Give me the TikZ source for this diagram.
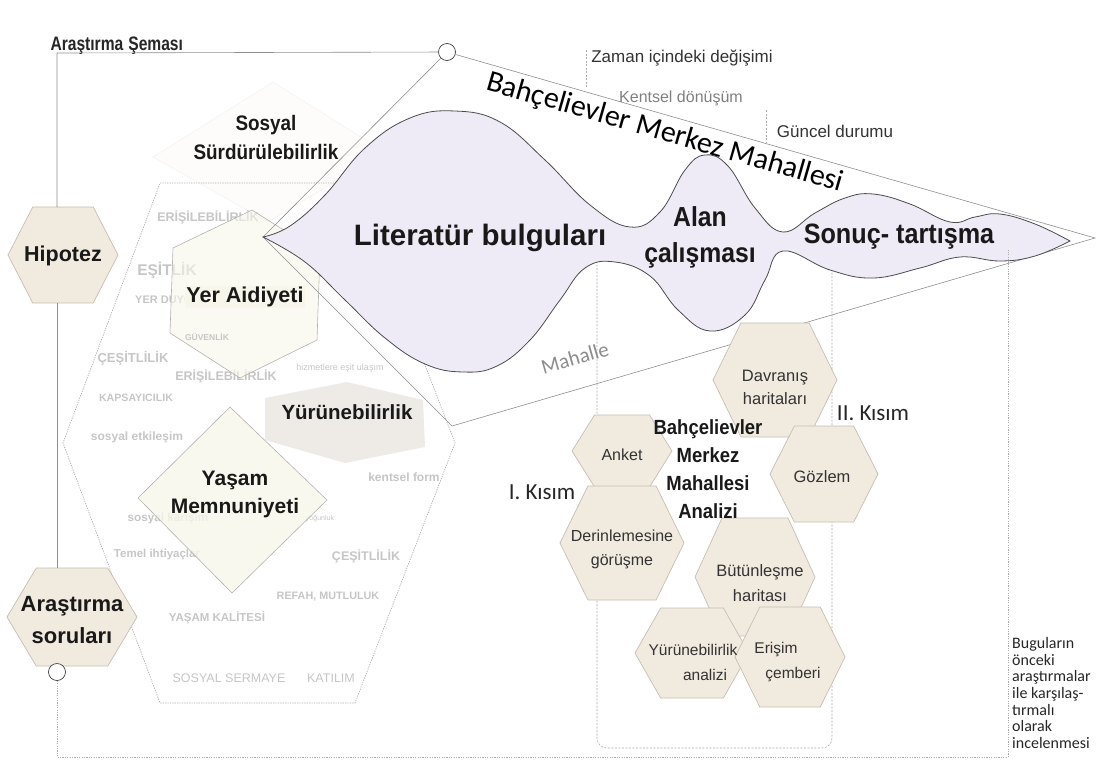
\documentclass[tikz,border=0pt]{standalone}
\usepackage{fontspec}
\setmainfont{Liberation Sans}
\newfontfamily\calibfont{Carlito}
\newfontfamily\condfont{Liberation Sans}[FakeStretch=0.9]
\newfontfamily\titlefont{Liberation Sans}[FakeStretch=0.8]
\usepackage{tikz}
\usetikzlibrary{positioning}
\usepackage{xcolor}
\definecolor{hexfill}{HTML}{F1EADF}
\definecolor{hexline}{HTML}{C6BEB2}
\definecolor{creamfill}{HTML}{F8F6EA}
\definecolor{walkfill}{HTML}{EEEBE7}
\definecolor{blobfill}{HTML}{EEEAF6}
\definecolor{ghostgray}{HTML}{C6C6C6}
\definecolor{frameline}{HTML}{8E8E8E}
\definecolor{dashline}{HTML}{ABABAB}
\definecolor{faintfill}{HTML}{FDFCFA}
\definecolor{faintline}{HTML}{F3F0EC}

\newcommand{\fsz}[2]{\fontsize{#1}{#2}\selectfont}
\newcommand{\hexshape}[6]{%
  \path[#2] ({#3-#5},#4) -- ({#3-0.55*#5},{#4-#6}) -- ({#3+0.55*#5},{#4-#6}) -- ({#3+#5},#4) -- ({#3+0.55*#5},{#4+#6}) -- ({#3-0.55*#5},{#4+#6}) -- cycle;
  \coordinate (#1-n) at (#3,{#4-#6});
  \coordinate (#1-s) at (#3,{#4+#6});
}

\begin{document}
\begin{tikzpicture}[x=1pt, y=-1pt,
  hexa/.style={fill=hexfill, draw=hexline, line width=0.7pt},
  shapeline/.style={draw=black!30, line width=0.6pt},
  ghost/.style={text=ghostgray, inner sep=0pt},
  boldtxt/.style={text=black!90, align=center, inner sep=0pt},
  regtxt/.style={text=black!80, align=center, inner sep=0pt},
  frame/.style={draw=frameline, line width=0.6pt},
  dashframe/.style={draw=dashline, line width=0.6pt, dash pattern=on 2pt off 1.5pt},
  dotframe/.style={draw=dashline, line width=0.7pt, dash pattern=on 1.2pt off 1.2pt},
  ringnode/.style={circle, draw=black!75, fill=white, line width=0.7pt, minimum size=17pt, inner sep=0pt}]
        \path[use as bounding box] (0,0) rectangle (1100,764);

        \node[anchor=west, font=\titlefont\bfseries\fsz{19.5}{22}, text=black!85] (title) at (47,46) {Araştırma\hspace{5pt}Şeması};

        \path[fill=faintfill, draw=faintline] (153,157) -- (273,82) -- (385,152) -- (268,222) -- cycle;
        \draw[dotframe] (160,183) -- (355,183) -- (455,443) -- (355,703) -- (160,703) -- (63,443) -- cycle;

        \node[ghost, font=\bfseries\fsz{12.5}{15}] (gerisim) at (208,217) {ERİŞİLEBİLİRLİK};
        \node[ghost, font=\bfseries\fsz{15.5}{18}] (gesitlik) at (167,270) {EŞİTLİK};
        \node[ghost, font=\bfseries\fsz{11}{13}, anchor=west] (gyer) at (135,300) {YER DUYGUSU};
        \node[ghost, font=\bfseries\fsz{13}{15}] (gcesit) at (133,358) {ÇEŞİTLİLİK};
        \node[ghost, font=\bfseries\fsz{12.5}{15}] (gerisim2) at (226,376) {ERİŞİLEBİLİRLİK};
        \node[ghost, font=\fsz{9}{11}] (ghizmet) at (340,368) {hizmetlere eşit ulaşım};
        \node[ghost, font=\bfseries\fsz{10.6}{13}] (gkapsa) at (136,398) {KAPSAYICILIK};
        \node[ghost, font=\bfseries\fsz{12}{14}] (getki) at (137,437) {sosyal etkileşim};
        \node[ghost, font=\bfseries\fsz{12}{14}] (gform) at (404,477) {kentsel form};
        \node[ghost, font=\bfseries\fsz{11.7}{14}] (gkarisim) at (168,518) {sosyal karışım};
        \node[ghost, font=\fsz{7}{8}] (gyogun) at (320,519) {yoğunluk};
        \node[ghost, font=\bfseries\fsz{11.5}{14}] (gtemel) at (157,555) {Temel ihtiyaçlar};
        \node[ghost, font=\bfseries\fsz{12.5}{15}] (gcesit2) at (366,556) {ÇEŞİTLİLİK};
        \node[ghost, font=\bfseries\fsz{10.8}{13}] (grefah) at (328,597) {REFAH, MUTLULUK};
        \node[ghost, font=\bfseries\fsz{11.5}{14}] (gkalite) at (217,618) {YAŞAM KALİTESİ};
        \node[ghost, font=\fsz{12.5}{15}] (gsermaye) at (229,678) {SOSYAL SERMAYE};
        \node[ghost, font=\fsz{12.5}{15}] (gkatilim) at (331,678) {KATILIM};

        \path[shapeline, fill=creamfill, fill opacity=0.6] (252,210) -- (320,253) -- (317,340) -- (240,378) -- (170,333) -- (173,248) -- cycle;
        \node[ghost, font=\bfseries\fsz{8.5}{10}] (gguven) at (207,337) {GÜVENLİK};
        \path[fill=walkfill] (265,398) -- (347,382) -- (423,400) -- (425,447) -- (345,463) -- (265,440) -- cycle;
        \path[shapeline, fill=creamfill, fill opacity=0.8] (230,407) -- (327,500) -- (232,593) -- (138,498) -- cycle;

        \draw[dashframe] (586,50) -- (586,88);
        \draw[dashframe] (766,110) -- (766,143);
        \draw[dashframe, rounded corners=10pt] (597,240) -- (597,748) -- (832,748) -- (832,240);

        \node[ringnode] (topring) at (447,52) {};
        \coordinate (lefttip) at (263,237);
        \coordinate (lowtip) at (452,426);
        \coordinate (righttip) at (1095,238);
        \draw[frame] (topring) -- (lefttip) -- (lowtip) -- (righttip) -- (topring);

        \filldraw[fill=blobfill, draw=black!70, line width=0.8pt]
          plot[smooth, tension=0.7] coordinates {(263,237) (290,226) (325,195) (365,148) (410,118) (455,111) (500,122) (545,160) (590,205) (630,227) (660,212) (685,170) (705,155) (728,166) (755,208) (783,232) (815,213) (845,198) (873,194) (910,204) (950,222) (975,217) (1000,214) (1035,224) (1070,241)}
          -- plot[smooth, tension=0.7] coordinates {(1070,241) (1035,256) (1000,261) (960,257) (920,268) (873,278) (830,270) (783,251) (765,280) (745,315) (710,331) (678,310) (650,276) (615,262) (585,268) (560,300) (530,340) (497,366) (463,372) (425,364) (385,338) (345,300) (305,262) (263,237)} -- cycle;

        \node[regtxt, font=\fsz{17}{20}] (zaman) at (682,58) {Zaman içindeki değişimi};
        \node[regtxt, font=\fsz{16}{19}, text=black!50] (kentsel) at (681,98) {Kentsel dönüşüm};
        \node[regtxt, font=\fsz{17}{20}] (guncel) at (835,131) {Güncel durumu};
        \node[font=\calibfont\fsz{30}{34}, rotate=-16, inner sep=0pt] (mahname) at (665,133) {Bahçelievler Merkez Mahallesi};
        \node[font=\calibfont\fsz{21}{24}, text=black!45, rotate=16, inner sep=0pt] (mahalle) at (575,358) {Mahalle};

        \node[boldtxt, font=\bfseries\fsz{29.5}{32}] (lit) at (480,238) {Literatür bulguları};
        \node[boldtxt, font=\condfont\bfseries\fsz{27.5}{36}] (alan) at (700,237) {Alan\\çalışması};
        \node[boldtxt, font=\condfont\bfseries\fsz{28}{30}] (sonuc) at (899,237) {Sonuç- tartışma};

        \node[boldtxt, font=\condfont\bfseries\fsz{21}{29}] (sosyal) at (266,137) {Sosyal\\Sürdürülebilirlik};
        \node[boldtxt, font=\bfseries\fsz{21.5}{25}, fill=creamfill, inner sep=1pt] (yer) at (245,297) {Yer Aidiyeti};
        \node[boldtxt, font=\bfseries\fsz{20.5}{24}] (yuru) at (347,412) {Yürünebilirlik};
        \node[boldtxt, font=\bfseries\fsz{21}{28}] (yasam) at (235,494) {Yaşam\\Memnuniyeti};

        \hexshape{hip}{hexa}{63}{255}{55}{48}
        \node[boldtxt, font=\bfseries\fsz{21.5}{25}] (hiptxt) at (63,256) {Hipotez};
        \hexshape{arq}{hexa}{72}{617}{65}{49}
        \node[boldtxt, font=\bfseries\fsz{22}{32}] (arqtxt) at (72,620) {Araştırma\\soruları};
        \node[ringnode] (botring) at (57,672) {};
        \coordinate (corner) at (57,53);
        \coordinate (bl) at (57,757);
        \coordinate (br) at (1008,757);
        \coordinate (rt) at (1008,250);
        \draw[frame] (topring) -- (corner) -- (corner |- hip-n);
        \draw[frame] (hip-s -| corner) -- (arq-n -| corner);
        \draw[dotframe] (botring) -- (bl) -- (br) -- (rt);

        \hexshape{anket}{hexa}{622}{451}{50}{36}
        \hexshape{derin}{hexa}{622}{543}{62}{57}
        \hexshape{davran}{hexa}{775}{380}{62}{57}
        \hexshape{gozlem}{hexa}{824}{474}{54}{48}
        \hexshape{butun}{hexa}{755}{577}{60}{59}
        \hexshape{yurana}{hexa}{692}{653}{57}{45}
        \hexshape{erisim}{hexa}{790}{657}{55}{50}

        \node[regtxt, font=\fsz{16}{19}] (anketxt) at (622,455) {Anket};
        \node[regtxt, font=\fsz{16}{24}] (derintxt) at (622,549) {Derinlemesine\\görüşme};
        \node[regtxt, font=\fsz{16.5}{23}] (davrantxt) at (775,387) {Davranış\\haritaları};
        \node[regtxt, font=\fsz{16.5}{19}] (gozlemtxt) at (822,477) {Gözlem};
        \node[regtxt, font=\fsz{16.5}{25}] (butuntxt) at (760,583) {Bütünleşme\\haritası};
        \node[regtxt, font=\fsz{15.5}{18}] (yuranatxt) at (693,650) {Yürünebilirlik};
        \node[regtxt, font=\fsz{15.5}{18}] (yuranatxt2) at (705,675) {analizi};
        \node[regtxt, font=\fsz{15.5}{18}] (erisimtxt) at (776,650) {Erişim};
        \node[regtxt, font=\fsz{15.5}{18}] (erisimtxt2) at (793,675) {çemberi};

        \node[boldtxt, font=\condfont\bfseries\fsz{20.5}{28}] (analiz) at (708,469) {Bahçelievler\\Merkez\\Mahallesi\\Analizi};
        \node[font=\calibfont\fsz{23}{26}, text=black!85, inner sep=0pt] (kisim1) at (542,492) {I. Kısım};
        \node[font=\calibfont\fsz{23}{26}, text=black!85, inner sep=0pt] (kisim2) at (873,413) {II. Kısım};
        \node[anchor=north west, align=left, font=\calibfont\fsz{16}{16.7}, text=black!85, inner sep=0pt] (bugu) at (1012,637) {Buguların\\önceki\\araştırmalar\\ile karşılaş-\\tırmalı\\olarak\\incelenmesi};
    \end{tikzpicture}
\end{document}
